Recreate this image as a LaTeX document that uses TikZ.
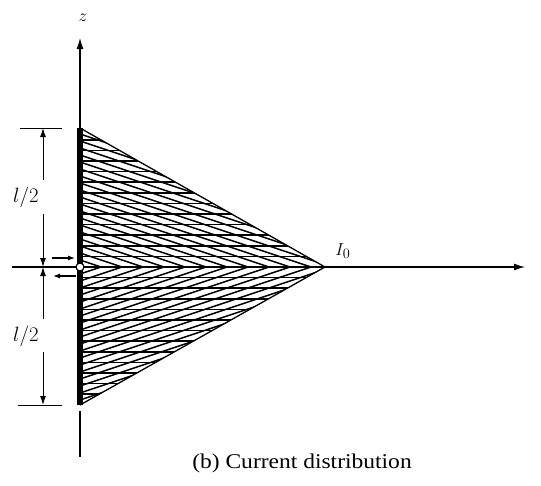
\documentclass[tikz,border=0pt]{standalone}
\usepackage{fontspec}
\setmainfont{Liberation Serif}
\usetikzlibrary{arrows.meta}
\begin{document}
\begin{tikzpicture}[x=1pt,y=-1pt,
  axis/.style={line width=1.2pt,-{Latex[length=11pt,width=7pt]}},
  hatch/.style={line width=1.5pt},
  dim/.style={line width=1pt},
  dimarrow/.style={line width=1pt,-{Latex[length=9pt,width=6pt]}},
  feedarrow/.style={line width=1.1pt,-{Latex[length=7pt,width=5pt]}},
  lbl/.style={font=\fontsize{20}{24}\selectfont}]
\useasboundingbox (0,0) rectangle (541,485);
\coordinate (T) at (80,128);
\coordinate (B) at (80,405);
\coordinate (P) at (325,267);
\coordinate (F) at (80,267);
% hatching
\begin{scope}
  \clip (T) -- (P) -- (B) -- cycle;
  \foreach \k in {-14,...,14} \draw[hatch] (70,267+\k*10.6) -- ++(270,0);
  \begin{scope}
    \clip (60,100) rectangle (340,267);
    \foreach \a in {0,...,32} \draw[hatch] (80+\a*21,267) -- ++(-450,-150);
  \end{scope}
  \begin{scope}
    \clip (60,267) rectangle (340,420);
    \foreach \a in {0,...,32} \draw[hatch] (80+\a*21,267) -- ++(-450,150);
  \end{scope}
\end{scope}
\draw[line width=1.3pt] (T) -- (P) -- (B);
% antenna
\draw[line width=6pt] (T) -- (B);
% axes
\coordinate (ztop) at (80,38);
\coordinate (zbot) at (80,457);
\coordinate (xend) at (525,267);
\coordinate (xleft) at (12,267);
\draw[axis] (T) -- (ztop);
\draw[line width=1.2pt] (80,411) -- (zbot);
\draw[line width=1.2pt] (xleft) -- (F);
\draw[line width=1pt] (F) -- (P);
\draw[axis] (P) -- (xend);
\node[font=\fontsize{16}{18}\selectfont] (zl) at (83,18) {$z$};
\node[font=\fontsize{19}{22}\selectfont] (I0) at (343,251) {$I_0$};
% feed
\coordinate (fa1) at (52,258);
\coordinate (fb1) at (75,258);
\coordinate (fa2) at (76,276);
\coordinate (fb2) at (53,276);
\draw[feedarrow] (fa1) -- (fb1);
\draw[feedarrow] (fa2) -- (fb2);
\node[circle,draw,fill=white,line width=1.2pt,inner sep=0pt,minimum size=8pt] (feed) at (F) {};
% dimension
\coordinate (t1) at (20,128); \coordinate (t2) at (62,128);
\coordinate (b1) at (18,405); \coordinate (b2) at (62,405);
\draw[dim] (t1) -- (t2);
\draw[dim] (b1) -- (b2);
\node[lbl] (L1) at (26,197) {$l/2$};
\node[lbl] (L2) at (26,336) {$l/2$};
\coordinate (d1) at (43,128);
\coordinate (d2) at (43,267);
\coordinate (d3) at (43,405);
\draw[dimarrow] (43,180) -- (d1);
\draw[dimarrow] (43,214) -- (d2);
\draw[dimarrow] (43,319) -- (d2);
\draw[dimarrow] (43,352) -- (d3);
% caption
\node[font=\fontsize{21}{24}\selectfont, xscale=1.12] (cap) at (302,463) {(b) Current distribution};
\end{tikzpicture}
\end{document}
